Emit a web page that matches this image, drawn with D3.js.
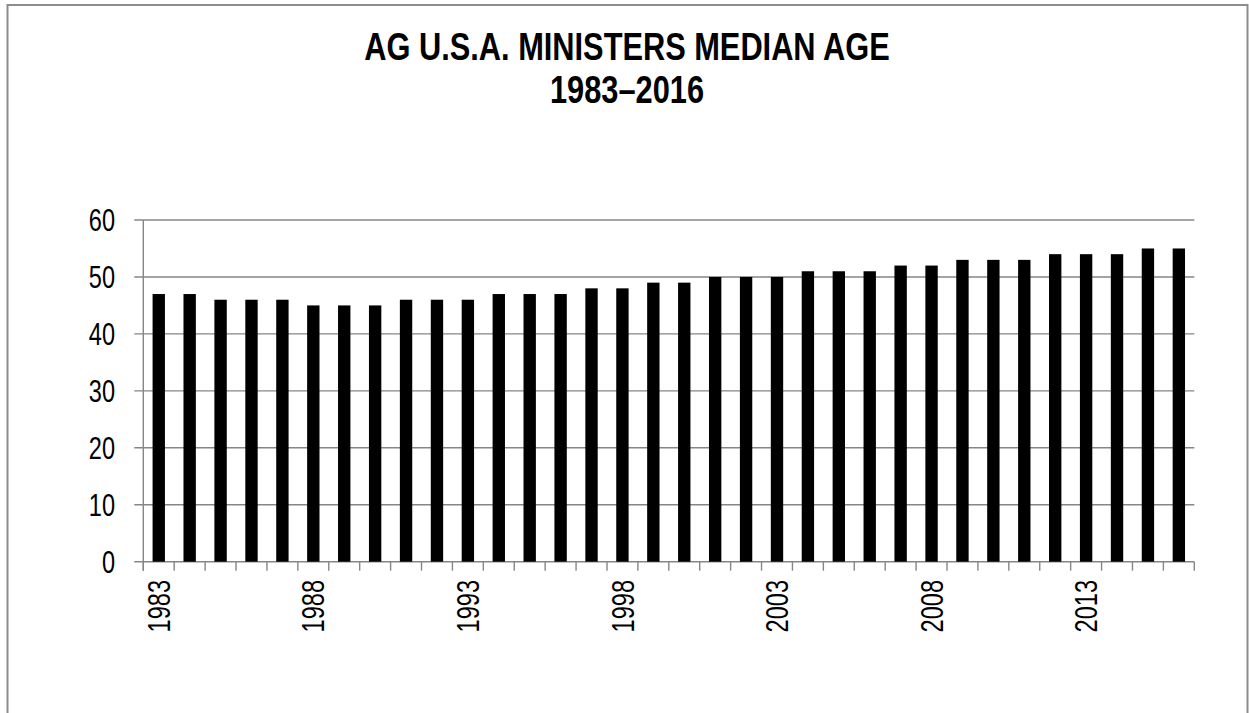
<!DOCTYPE html>
<html>
<head>
<meta charset="utf-8">
<script src="https://cdn.jsdelivr.net/npm/d3@7"></script>
<style>
  body { margin: 0; background: #fff; }
  svg { display: block; }
  text { font-family: "Liberation Sans", Arial, sans-serif; fill: #000; }
</style>
</head>
<body>
<svg id="chart"></svg>
<script>
// median age of AG U.S.A. ministers, one value per year
const years = d3.range(1983, 2017).map(String);
const medianAge = [47, 47, 46, 46, 46, 45, 45, 45, 46, 46, 46, 47, 47, 47, 48, 48, 49,
                   49, 50, 50, 50, 51, 51, 51, 52, 52, 53, 53, 53, 54, 54, 54, 55, 55];
const yTicks = [0, 10, 20, 30, 40, 50, 60];
const labelYears = ["1983", "1988", "1993", "1998", "2003", "2008", "2013"];
const titleLines = ["AG U.S.A. MINISTERS MEDIAN AGE", "1983\u20132016"];

const width = 1249;
const height = 713;
const plot = { left: 143.3, right: 1194.3, top: 220, bottom: 561.7 };
const gridColor = "#868686";
const narrow = 0.76; // no Arial Narrow here, so squeeze the regular face

const svg = d3.select("#chart")
    .attr("width", width)
    .attr("height", height);

// outer frame (bottom edge runs off the picture)
svg.append("rect")
    .attr("x", 7.5)
    .attr("y", 5)
    .attr("width", 1240)
    .attr("height", 740)
    .attr("fill", "none")
    .attr("stroke", "#8c8c8c")
    .attr("stroke-width", 2);

const x = d3.scaleBand()
    .domain(years)
    .range([plot.left, plot.right])
    .padding(0);

const y = d3.scaleLinear()
    .domain([0, 60])
    .range([plot.bottom, plot.top]);

// horizontal gridlines + y ticks
svg.append("g")
    .selectAll("line")
    .data(yTicks)
    .join("line")
    .attr("x1", plot.left - 9)
    .attr("x2", plot.right)
    .attr("y1", d => y(d))
    .attr("y2", d => y(d))
    .attr("stroke", gridColor)
    .attr("stroke-width", 1.4);

svg.append("g")
    .selectAll("text")
    .data(yTicks)
    .join("text")
    .attr("transform", d => `translate(115,${y(d)}) scale(${narrow},1)`)
    .attr("dy", "0.36em")
    .attr("text-anchor", "end")
    .style("font-size", "31px")
    .text(d => d);

// bars
const bw = x.bandwidth();
svg.append("g")
    .selectAll("rect")
    .data(years.map((yr, i) => ({ yr, v: medianAge[i] })))
    .join("rect")
    .attr("x", d => x(d.yr) + bw * 0.3)
    .attr("width", bw * 0.4)
    .attr("y", d => y(d.v))
    .attr("height", d => y(0) - y(d.v))
    .attr("fill", "#000");

// axes lines
svg.append("line")
    .attr("x1", plot.left).attr("x2", plot.left)
    .attr("y1", plot.top).attr("y2", plot.bottom + 9)
    .attr("stroke", gridColor).attr("stroke-width", 1.4);

const tickXs = years.map(d => x(d)).concat([plot.right]);
svg.append("g")
    .selectAll("line")
    .data(tickXs)
    .join("line")
    .attr("x1", d => d).attr("x2", d => d)
    .attr("y1", plot.bottom).attr("y2", plot.bottom + 9)
    .attr("stroke", gridColor).attr("stroke-width", 1.4);

svg.append("g")
    .selectAll("text")
    .data(labelYears)
    .join("text")
    .attr("transform", d => `translate(${x(d) + bw / 2},580) rotate(-90) scale(${narrow},1)`)
    .attr("dy", "0.36em")
    .attr("text-anchor", "end")
    .style("font-size", "31px")
    .text(d => d);

// title
svg.append("g")
    .selectAll("text")
    .data(titleLines)
    .join("text")
    .attr("transform", (d, i) => `translate(627,${59.5 + i * 43}) scale(0.81,1)`)
    .attr("text-anchor", "middle")
    .style("font-size", "38px")
    .style("font-weight", "bold")
    .text(d => d);
</script>
</body>
</html>
